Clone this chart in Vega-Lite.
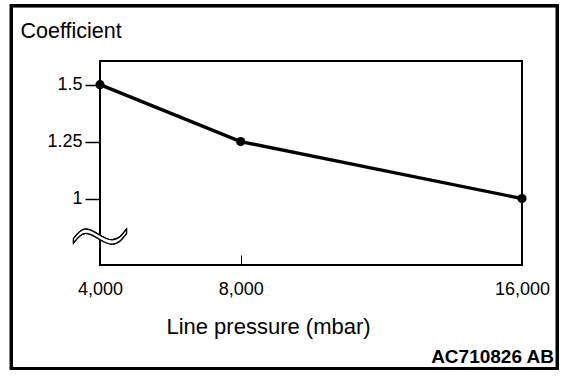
{
  "$schema": "https://vega.github.io/schema/vega-lite/v6.json",
  "width": 422,
  "height": 204,
  "autosize": {"type": "none"},
  "padding": {"left": 100, "top": 61, "right": 54, "bottom": 111},
  "background": "white",
  "title": {
    "text": "AC710826 AB",
    "orient": "bottom",
    "anchor": "end",
    "frame": "group",
    "font": "Liberation Sans",
    "fontSize": 19,
    "fontWeight": "bold",
    "color": "black",
    "baseline": "alphabetic",
    "dx": 32,
    "offset": -7
  },
  "data": {
    "values": [
      {"pressure": 4000, "coefficient": 1.5},
      {"pressure": 8000, "coefficient": 1.25},
      {"pressure": 16000, "coefficient": 1.0}
    ]
  },
  "layer": [
    {
      "mark": {"type": "line", "color": "black", "strokeWidth": 3.3},
      "encoding": {
        "x": {
          "field": "pressure",
          "type": "quantitative",
          "scale": {"domain": [4000, 16000], "nice": false, "zero": false},
          "axis": {
            "values": [4000, 8000, 16000],
            "format": ",d",
            "domain": false,
            "grid": false,
            "tickSize": -10,
            "tickWidth": 1,
            "tickColor": "black",
            "labelFont": "Liberation Sans",
            "labelFontSize": 18,
            "labelColor": "black",
            "labelBaseline": "alphabetic",
            "labelPadding": 39,
            "labelFlush": false,
            "labelOverlap": false,
            "title": "Line pressure (mbar)",
            "titleFont": "Liberation Sans",
            "titleFontSize": 22,
            "titleFontWeight": "normal",
            "titleColor": "black",
            "titleAlign": "center",
            "titleBaseline": "alphabetic",
            "titleX": 168,
            "titleY": 68
          }
        },
        "y": {
          "field": "coefficient",
          "type": "quantitative",
          "scale": {"domain": [0.7084, 1.6038], "nice": false, "zero": false},
          "axis": {
            "values": [1, 1.25, 1.5],
            "labelExpr": "'' + datum.value",
            "domain": false,
            "grid": false,
            "tickSize": 15,
            "tickWidth": 1.5,
            "tickColor": "black",
            "labelFont": "Liberation Sans",
            "labelFontSize": 18,
            "labelColor": "black",
            "labelPadding": 3,
            "labelOverlap": false,
            "title": "Coefficient",
            "titleFont": "Liberation Sans",
            "titleFontSize": 21.5,
            "titleFontWeight": "normal",
            "titleColor": "black",
            "titleAngle": 0,
            "titleAlign": "left",
            "titleBaseline": "alphabetic",
            "titleX": -80,
            "titleY": -24
          }
        }
      }
    },
    {
      "mark": {"type": "point", "filled": true, "color": "black", "size": 85, "opacity": 1},
      "encoding": {
        "x": {"field": "pressure", "type": "quantitative"},
        "y": {"field": "coefficient", "type": "quantitative"}
      }
    },
    {
      "mark": {
        "type": "point",
        "shape": "M -1 0.08 C -0.85 -0.12 -0.7 -0.28 -0.55 -0.28 C -0.19 -0.28 0.09 0.12 0.45 0.12 C 0.7 0.12 0.85 -0.08 1 -0.28 L 1 -0.12 C 0.85 0.08 0.7 0.28 0.45 0.28 C 0.09 0.28 -0.19 -0.12 -0.55 -0.12 C -0.7 -0.12 -0.85 0.04 -1 0.24 Z",
        "size": 2809,
        "filled": true,
        "fill": "white",
        "stroke": "black",
        "strokeWidth": 1.2,
        "opacity": 1
      },
      "encoding": {
        "x": {"datum": 4000, "type": "quantitative"},
        "y": {"datum": 0.833, "type": "quantitative"}
      }
    },
    {
      "mark": {"type": "rect", "fill": "white", "fillOpacity": 0, "stroke": "black", "strokeWidth": 3},
      "encoding": {
        "x": {"datum": 1478, "type": "quantitative"},
        "x2": {"datum": 17004},
        "y": {"datum": 1.8466, "type": "quantitative"},
        "y2": {"datum": 0.2546}
      }
    }
  ],
  "config": {
    "view": {"stroke": "black", "strokeWidth": 2},
    "font": "Liberation Sans"
  }
}
